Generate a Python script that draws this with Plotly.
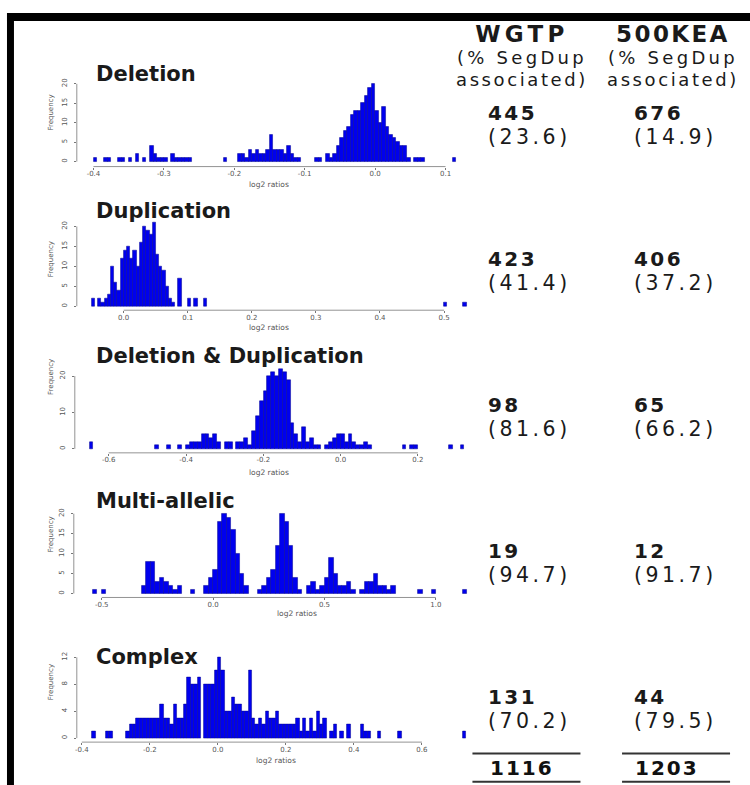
import plotly.graph_objects as go

W, H = 750, 785

# ------------------------- data -------------------------
panel_titles = ["Deletion", "Duplication", "Deletion & Duplication", "Multi-allelic", "Complex"]

# histogram bins: first bin left edge, bin width, counts per bin
deletion_start = -0.41
deletion_width = 0.005
deletion_counts = [
    0, 0, 1, 0, 0, 1, 1, 0, 0, 1,
    1, 0, 1, 0, 2, 0, 1, 0, 4, 2,
    1, 1, 1, 0, 2, 1, 1, 1, 1, 1,
    0, 0, 0, 0, 0, 0, 0, 0, 0, 1,
    0, 0, 0, 2, 2, 1, 3, 2, 3, 2,
    2, 3, 7, 3, 3, 3, 2, 4, 2, 1,
    1, 0, 0, 0, 0, 1, 1, 0, 2, 1,
    2, 4, 6, 8, 9, 12, 13, 13, 15, 17,
    19, 20, 13, 10, 14, 9, 7, 6, 5, 4,
    4, 1, 0, 1, 1, 1, 0, 0, 0, 0,
    0, 0, 0, 0, 1, 0,
]

duplication_start = -0.05
duplication_width = 0.005
duplication_counts = [
    2, 0, 2, 1, 2, 3, 10, 6, 4, 12,
    14, 15, 12, 14, 10, 16, 20, 19, 18, 21,
    13, 10, 9, 5, 2, 1, 0, 7, 0, 0,
    2, 0, 2, 0, 0, 2, 0, 0, 0, 0,
    0, 0, 0, 0, 0, 0, 0, 0, 0, 0,
    0, 0, 0, 0, 0, 0, 0, 0, 0, 0,
    0, 0, 0, 0, 0, 0, 0, 0, 0, 0,
    0, 0, 0, 0, 0, 0, 0, 0, 0, 0,
    0, 0, 0, 0, 0, 0, 0, 0, 0, 0,
    0, 0, 0, 0, 0, 0, 0, 0, 0, 0,
    0, 0, 0, 0, 0, 0, 0, 0, 0, 0,
    1, 0, 0, 0, 0, 0, 1,
]

deldup_start = -0.66
deldup_width = 0.01
deldup_counts = [
    0, 2, 0, 0, 0, 0, 0, 0, 0, 0,
    0, 0, 0, 0, 0, 0, 0, 0, 1, 0,
    0, 1, 0, 0, 1, 0, 1, 2, 2, 2,
    4, 4, 3, 4, 2, 0, 2, 2, 0, 2,
    2, 3, 1, 5, 9, 13, 16, 20, 21, 20,
    22, 21, 19, 7, 4, 2, 6, 2, 3, 1,
    1, 0, 1, 2, 3, 4, 4, 2, 4, 2,
    1, 1, 2, 1, 0, 0, 0, 0, 0, 0,
    0, 0, 1, 0, 1, 1, 0, 0, 0, 0,
    0, 0, 0, 0, 1, 0, 0, 1,
]

multi_start = -0.56
multi_width = 0.02
multi_counts = [
    0, 1, 0, 1, 0, 0, 0, 0, 0, 0,
    0, 0, 2, 8, 8, 3, 4, 3, 2, 1,
    2, 0, 0, 1, 0, 0, 2, 4, 6, 18,
    20, 19, 16, 10, 5, 2, 0, 0, 1, 2,
    4, 6, 12, 20, 18, 12, 4, 1, 0, 2,
    3, 1, 2, 4, 9, 5, 2, 2, 3, 1,
    0, 1, 3, 3, 5, 2, 2, 1, 2, 0,
    0, 0, 0, 0, 1, 0, 0, 1, 0, 0,
    0, 0, 0, 0, 1,
]

complex_start = -0.38
complex_width = 0.01
complex_counts = [
    0, 1, 0, 0, 0, 1, 1, 0, 0, 0,
    0, 1, 2, 2, 3, 3, 3, 3, 3, 3,
    3, 5, 3, 3, 2, 5, 3, 3, 5, 9,
    8, 8, 9, 0, 8, 8, 8, 10, 12, 10,
    4, 4, 6, 5, 5, 4, 4, 10, 3, 2,
    3, 2, 4, 3, 3, 4, 2, 2, 2, 2,
    2, 3, 1, 3, 1, 3, 1, 4, 2, 3,
    0, 1, 2, 0, 1, 0, 2, 0, 0, 0,
    2, 1, 1, 0, 0, 1, 0, 0, 0, 0,
    0, 1, 0, 0, 0, 0, 0, 0, 0, 0,
    0, 0, 0, 0, 0, 0, 0, 0, 0, 0, 1,
]

# axis ticks
deletion_xticks = [-0.4, -0.3, -0.2, -0.1, 0.0, 0.1]
duplication_xticks = [0.0, 0.1, 0.2, 0.3, 0.4, 0.5]
deldup_xticks = [-0.6, -0.4, -0.2, 0.0, 0.2]
multi_xticks = [-0.5, 0.0, 0.5, 1.0]
complex_xticks = [-0.4, -0.2, 0.0, 0.2, 0.4, 0.6]

deletion_yticks = [0, 5, 10, 15, 20]
duplication_yticks = [0, 5, 10, 15, 20]
deldup_yticks = [0, 10, 20]
multi_yticks = [0, 5, 10, 15, 20]
complex_yticks = [0, 4, 8, 12]

# table on the right
column_names = ["WGTP", "500KEA"]
column_sub = ["(% SegDup", "associated)"]
wgtp_counts = [445, 423, 98, 19, 131]
wgtp_pct = [23.6, 41.4, 81.6, 94.7, 70.2]
kea_counts = [676, 406, 65, 12, 44]
kea_pct = [14.9, 37.2, 66.2, 91.7, 79.5]
wgtp_total = 1116
kea_total = 1203

# ------------------------- layout helpers -------------------------
def px(x):
    return x / W

def py(y):
    return 1 - y / H

FONT_B = "DejaVu Sans"
BAR_FILL = "#0000ee"
BAR_EDGE = "#000090"

panels = [
    dict(start=deletion_start, width=deletion_width, counts=deletion_counts,
         xticks=deletion_xticks, yticks=deletion_yticks,
         left=75, top=78, bottom=165, zero=160, ppu=3.9,
         xref_val=-0.4, xref_px=91.7, xppu=706.0,
         title_y=72.5, freq_y=111, xlab_x=268, xlab_y=182.5),
    dict(start=duplication_start, width=duplication_width, counts=duplication_counts,
         xticks=duplication_xticks, yticks=duplication_yticks,
         left=75, top=218, bottom=309, zero=305, ppu=4.0,
         xref_val=0.0, xref_px=122.0, xppu=642.5,
         title_y=210, freq_y=258, xlab_x=268, xlab_y=326.5),
    dict(start=deldup_start, width=deldup_width, counts=deldup_counts,
         xticks=deldup_xticks, yticks=deldup_yticks,
         left=73, top=362, bottom=452, zero=448, ppu=3.65,
         xref_val=-0.6, xref_px=107.0, xppu=387.5,
         title_y=355, freq_y=376, xlab_x=268, xlab_y=471.5),
    dict(start=multi_start, width=multi_width, counts=multi_counts,
         xticks=multi_xticks, yticks=multi_yticks,
         left=72, top=508, bottom=597, zero=593, ppu=4.0,
         xref_val=-0.5, xref_px=100.0, xppu=223.3,
         title_y=500, freq_y=534, xlab_x=296, xlab_y=613.5),
    dict(start=complex_start, width=complex_width, counts=complex_counts,
         xticks=complex_xticks, yticks=complex_yticks,
         left=75, top=652, bottom=742, zero=738, ppu=6.75,
         xref_val=-0.4, xref_px=80.0, xppu=341.0,
         title_y=656.5, freq_y=682, xlab_x=275, xlab_y=760),
]
RIGHT_PX = 470

fig = go.Figure()
layout = dict(
    width=W, height=H,
    margin=dict(l=0, r=0, t=0, b=0),
    paper_bgcolor="white", plot_bgcolor="white",
    showlegend=False,
    bargap=0,
)
shapes = []
annotations = []

def fmt_tick(v):
    return f"{v:.1f}"

for i, p in enumerate(panels):
    n = i + 1
    xa = "x" if n == 1 else f"x{n}"
    ya = "y" if n == 1 else f"y{n}"
    xkey = "xaxis" if n == 1 else f"xaxis{n}"
    ykey = "yaxis" if n == 1 else f"yaxis{n}"

    centers = [p["start"] + p["width"] * (k + 0.5) for k in range(len(p["counts"]))]
    # empty bins are left blank (no baseline stroke), as in the original histogram
    heights = [c if c > 0 else None for c in p["counts"]]
    fig.add_trace(go.Bar(
        x=centers, y=heights, width=p["width"],
        marker=dict(color=BAR_FILL, line=dict(color=BAR_EDGE, width=0.5)),
        xaxis=xa, yaxis=ya, hoverinfo="skip",
    ))

    x0 = p["xref_val"] + (p["left"] - p["xref_px"]) / p["xppu"]
    x1 = p["xref_val"] + (RIGHT_PX - p["xref_px"]) / p["xppu"]
    y0 = (p["zero"] - p["bottom"]) / p["ppu"]
    y1 = (p["zero"] - p["top"]) / p["ppu"]

    tickstyle = dict(ticks="outside", ticklen=2, tickwidth=0.8, tickcolor="#777",
                     showgrid=False, zeroline=False, showline=False,
                     tickfont=dict(family=FONT_B, size=7, color="#555"))
    layout[xkey] = dict(domain=[px(p["left"]), px(RIGHT_PX)], range=[x0, x1],
                        anchor=ya, tickmode="array", tickvals=p["xticks"],
                        ticktext=[fmt_tick(v) for v in p["xticks"]],
                        ticklabelstandoff=-2, **tickstyle)
    layout[ykey] = dict(domain=[py(p["bottom"]), py(p["top"])], range=[y0, y1],
                        anchor=xa, tickmode="array", tickvals=p["yticks"],
                        ticktext=[str(v) for v in p["yticks"]], tickangle=-90,
                        ticklabelstandoff=4, **tickstyle)

    # R-style axis lines spanning only the tick range
    shapes.append(dict(type="line", xref=xa, yref=f"{ya} domain",
                       x0=p["xticks"][0], x1=p["xticks"][-1], y0=0, y1=0,
                       line=dict(color="#777", width=0.8)))
    shapes.append(dict(type="line", xref=f"{xa} domain", yref=ya,
                       x0=0, x1=0, y0=p["yticks"][0], y1=p["yticks"][-1],
                       line=dict(color="#777", width=0.8)))

    annotations.append(dict(text=panel_titles[i], x=px(92), y=py(p["title_y"]),
                            xref="paper", yref="paper", xanchor="left", yanchor="middle",
                            showarrow=False,
                            font=dict(family=FONT_B, size=21, color="#1a1a1a", weight="bold")))
    annotations.append(dict(text="Frequency", x=px(49), y=py(p["freq_y"]),
                            xref="paper", yref="paper", xanchor="center", yanchor="middle",
                            textangle=-90, showarrow=False,
                            font=dict(family=FONT_B, size=7, color="#555")))
    annotations.append(dict(text="log2 ratios", x=px(p["xlab_x"]), y=py(p["xlab_y"]),
                            xref="paper", yref="paper", xanchor="center", yanchor="middle",
                            showarrow=False,
                            font=dict(family=FONT_B, size=7.5, color="#555")))

def span(text, size, ls, bold=False):
    w = "font-weight:bold;" if bold else ""
    return f'<span style="font-size:{size}px;{w}letter-spacing:{ls}px">{text}</span>'

def add_block(text, x, y, line_h, anchor="left", color="#111"):
    annotations.append(dict(text=text, x=px(x), y=py(y), xref="paper", yref="paper",
                            xanchor=anchor, yanchor="middle", align=anchor,
                            showarrow=False,
                            font=dict(family=FONT_B, size=line_h / 1.3, color=color)))

# column headers (one text block each: name + two sub-lines)
header_lines = [
    (column_names[0], 4.3, 521),
    (column_names[1], 2.4, 673),
]
for name, ls, cx in header_lines:
    txt = (span(name, 23, ls, bold=True) + "<br>" +
           span(column_sub[0], 18, 3.3) + "<br>" +
           span(column_sub[1], 18, 2.6))
    add_block(txt, cx, 54, 22.2, anchor="center", color="#1a1a1a")

# counts with % SegDup in parentheses
block_y = [123.5, 269.5, 416, 562, 708.5]
for k in range(5):
    t1 = span(str(wgtp_counts[k]), 20, 2.4, bold=True) + "<br>" + span(f"({wgtp_pct[k]:.1f})", 20.5, 3.5)
    t2 = span(str(kea_counts[k]), 20, 2.4, bold=True) + "<br>" + span(f"({kea_pct[k]:.1f})", 20.5, 3.5)
    add_block(t1, 485, block_y[k], 24, color="#1a1a1a")
    add_block(t2, 632, block_y[k], 24, color="#1a1a1a")

# totals
add_block(span(str(wgtp_total), 20, 2, bold=True), 487, 767.5, 21.5, color="#111")
add_block(span(str(kea_total), 20, 2, bold=True), 633, 767.5, 21.5, color="#111")

for yy in (753.3, 781.7):
    shapes.append(dict(type="line", xref="paper", yref="paper",
                       x0=px(471.7), x1=px(580), y0=py(yy), y1=py(yy),
                       line=dict(color="#333", width=2)))
    shapes.append(dict(type="line", xref="paper", yref="paper",
                       x0=px(621.7), x1=px(730), y0=py(yy), y1=py(yy),
                       line=dict(color="#333", width=2)))

# black frame (top and left)
shapes.append(dict(type="rect", xref="paper", yref="paper",
                   x0=px(5), x1=1.0, y0=py(19), y1=py(11),
                   fillcolor="black", line=dict(width=0)))
shapes.append(dict(type="rect", xref="paper", yref="paper",
                   x0=px(5), x1=px(12), y0=0, y1=py(11),
                   fillcolor="black", line=dict(width=0)))

layout["shapes"] = shapes
layout["annotations"] = annotations
fig.update_layout(**layout)

fig.write_html("out.html")
